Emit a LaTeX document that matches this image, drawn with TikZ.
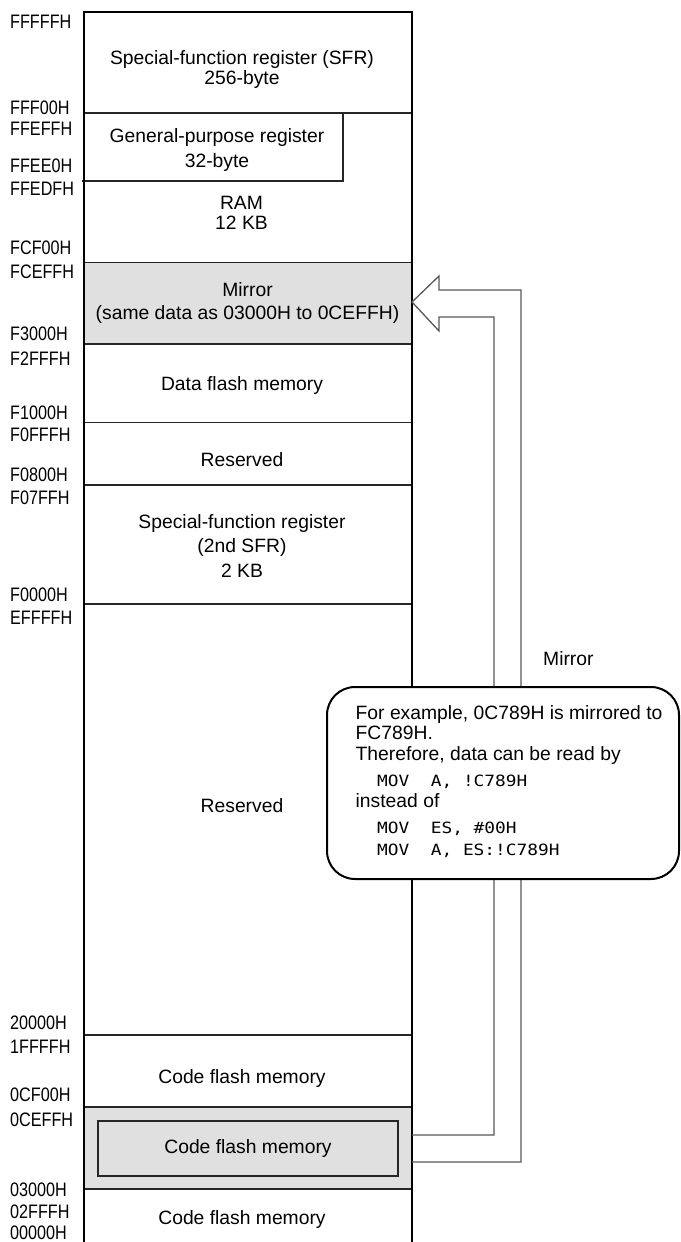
\documentclass[tikz,border=0pt]{standalone}
\usepackage{fontspec}
\setmainfont{Liberation Sans}
\newfontfamily\addrfont[FakeStretch=0.83]{Liberation Sans}
\newfontfamily\codefont[FakeStretch=1.15]{DejaVu Sans Mono}
\usepackage{xcolor}
\usepackage{tikz}
\usetikzlibrary{positioning}
\definecolor{mirrorgray}{RGB}{224,224,224}
\definecolor{arrowgray}{RGB}{88,88,88}
\newcommand\asmline[1]{{\codefont\fontsize{15.5}{20.5}\selectfont #1}}
\tikzset{
  frame/.style={line width=2.2pt, black, line join=miter},
  sep/.style={line width=1.1pt, black!85},
  blk/.style={font=\fontsize{19.3}{20}\selectfont, align=center, inner sep=0pt},
  addr/.style={font=\addrfont\fontsize{19.5}{20}\selectfont, anchor=west, inner sep=0pt},
  innerbox/.style={draw=black!85, line width=1.1pt, fill=mirrorgray, minimum width=300pt, minimum height=55pt, inner sep=0pt, font=\fontsize{19.3}{20}\selectfont},
  mirrorarrow/.style={draw=arrowgray, line width=1.3pt, line join=miter},
  note/.style={draw=black, line width=2pt, fill=white, rounded corners=28pt, minimum width=352pt, minimum height=192pt, inner sep=0pt},
  notetext/.style={font=\fontsize{19.3}{20.5}\selectfont, align=left, inner sep=0pt, anchor=north west}
}

\begin{document}
\begin{tikzpicture}[x=1pt,y=-1pt]
  \useasboundingbox[fill=white] (0,0) rectangle (680,1242);
  % shaded areas
  \fill[mirrorgray] (84,262.5) rectangle (412,344);
  \fill[mirrorgray] (84,1107) rectangle (412,1189);
  % area borders
  \draw[sep] (84,113) -- (412,113); \draw[sep] (84,262.5) -- (412,262.5);
  \draw[sep] (84,344) -- (412,344); \draw[sep] (84,422.7) -- (412,422.7);
  \draw[sep] (84,485) -- (412,485); \draw[sep] (84,604) -- (412,604);
  \draw[sep] (84,1035) -- (412,1035); \draw[sep] (84,1107) -- (412,1107);
  \draw[sep] (84,1189) -- (412,1189);
  \draw[sep] (343,113) -- (343,181) -- (82,181);
  \node[innerbox] (cfmin) at (248,1148.5) {Code flash memory};
  \draw[frame] (84,1250) -- (84,12) -- (412,12) -- (412,1250);

  % mirror arrow
  \coordinate (cfin) at (412,1135); \coordinate (cfout) at (412,1162);
  \coordinate (mtip) at (412,302);
  \draw[mirrorarrow] (cfout) -- (521,1162) -- (521,290) -- (439,290) -- (439,276)
    -- (mtip) -- (439,331) -- (439,317) -- (494,317) -- (494,1135) -- (cfin);

  % area names
  \node[blk] (sfr) at (242,69.6) {Special-function register (SFR)\\256-byte};
  \node[blk] (gpr) at (217,150.2) {General-purpose register\\[5pt]32-byte};
  \node[blk] (ram) at (241.5,213) {RAM\\12 KB};
  \node[blk] (mir) at (247.5,303) {Mirror\\[3pt](same data as 03000H to 0CEFFH)};
  \node[blk, anchor=base] (dfm) at (242,390) {Data flash memory};
  \node[blk, anchor=base] (rsv1) at (242,466.7) {Reserved};
  \node[blk] (sfr2) at (242,546) {Special-function register\\[4.5pt](2nd SFR)\\[4.5pt]2 KB};
  \node[blk, anchor=base] (rsv2) at (242,812) {Reserved};
  \node[blk, anchor=base] (cfm1) at (242,1083.3) {Code flash memory};
  \node[blk, anchor=base] (cfm0) at (242,1224) {Code flash memory};

  % addresses
  \node[addr] (a1) at (10,22) {FFFFFH}; \node[addr] (a2) at (10,108) {FFF00H};
  \node[addr] (a3) at (10,129) {FFEFFH}; \node[addr] (a4) at (10,166) {FFEE0H};
  \node[addr] (a5) at (10,189) {FFEDFH}; \node[addr] (a6) at (10,248) {FCF00H};
  \node[addr] (a7) at (10,271.5) {FCEFFH}; \node[addr] (a8) at (10,334) {F3000H};
  \node[addr] (a9) at (10,359) {F2FFFH}; \node[addr] (a10) at (10,413) {F1000H};
  \node[addr] (a11) at (10,435) {F0FFFH}; \node[addr] (a12) at (10,475) {F0800H};
  \node[addr] (a13) at (10,498) {F07FFH}; \node[addr] (a14) at (10,595) {F0000H};
  \node[addr] (a15) at (10,618) {EFFFFH}; \node[addr] (a16) at (10,1023) {20000H};
  \node[addr] (a17) at (10,1047) {1FFFFH}; \node[addr] (a18) at (10,1095) {0CF00H};
  \node[addr] (a19) at (10,1120) {0CEFFH}; \node[addr] (a20) at (10,1189.5) {03000H};
  \node[addr] (a21) at (10,1212) {02FFFH}; \node[addr] (a22) at (10,1233) {00000H};

  % example note
  \node[blk, anchor=base west] (mirlbl) at (543,665.5) {Mirror};
  \node[note] (note) at (503,783) {};
  \node[notetext] (notetxt) at (355.5,705) {For example, 0C789H is mirrored to\\
    FC789H.\\
    Therefore, data can be read by\\[6pt]
    \asmline{~~MOV~~A,~!C789H}\\
    instead of\\[5.5pt]
    \asmline{~~MOV~~ES,~\#00H}\\[1.5pt]
    \asmline{~~MOV~~A,~ES:!C789H}};
\end{tikzpicture}
\end{document}
